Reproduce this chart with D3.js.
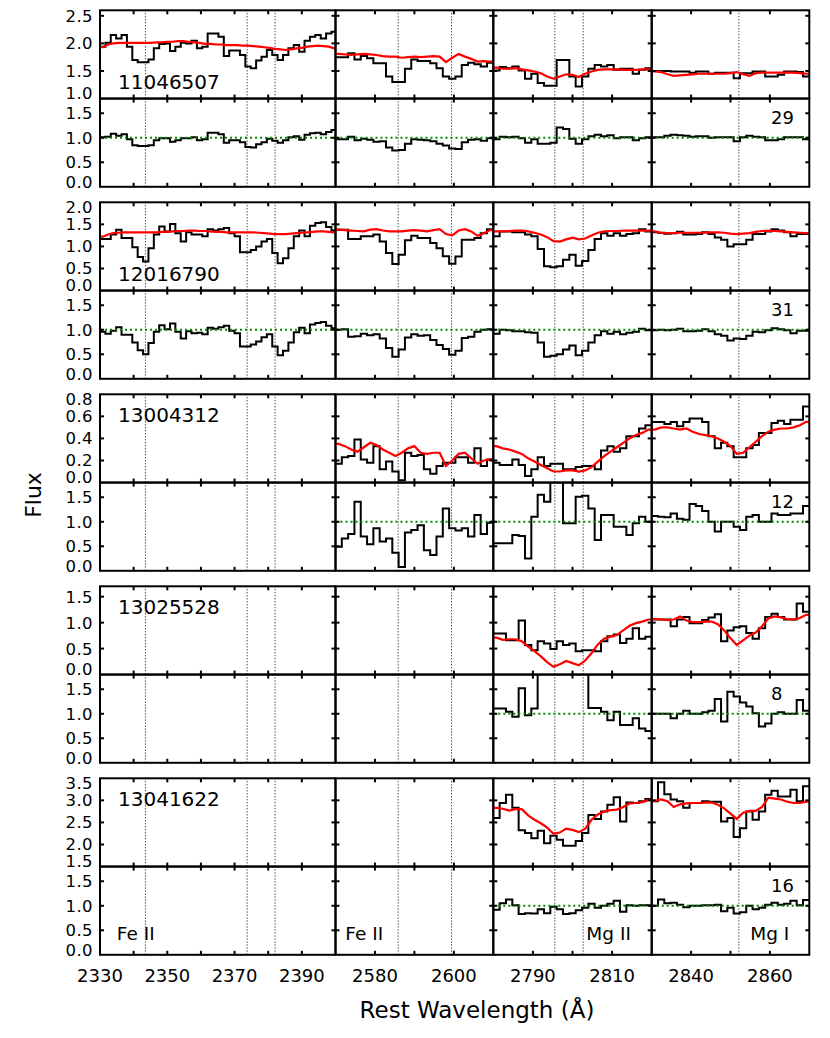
<!DOCTYPE html>
<html><head><meta charset="utf-8">
<script src="https://cdn.jsdelivr.net/npm/d3@7"></script>
<style>
body{margin:0;background:#fff}
svg{display:block}
text{font-family:"DejaVu Sans",sans-serif;fill:#000}
</style>
</head><body>
<svg id="chart" width="830" height="1038"></svg>
<script>
// ---------------- DATA ----------------
const galaxyIds = ["11046507","12016790","13004312","13025528","13041622"];
const snrLabels = ["29","31","12","8","16"];
const colRanges = [[2330,2400],[2570,2610],[2780,2820],[2830,2870]];
const binWidth = 1.6; // Angstrom per spectral bin (bins start at the left of each window)
const lineWaves = [[2343.50,2373.74,2382.04],[2585.88,2599.40],[2795.53,2802.70],[2852.13]];
const ionLabels = ["Fe II","Fe II","Mg II","Mg I"];
const ionLabelWaves = [2335,2572.5,2803.5,2855];
const xTickLabels = [[2330,2350,2370,2390],[2580,2600],[2790,2810],[2840,2860]];
const fluxDomains = [[1.0,2.6],[0,2.0],[0,0.8],[0,1.7],[1.5,3.5]];
const fluxTicks = [[1.0,1.5,2.0,2.5],[0,0.5,1.0,1.5,2.0],[0,0.2,0.4,0.6,0.8],[0,0.5,1.0,1.5],[1.5,2.0,2.5,3.0,3.5]];
const normDomain = [0,1.8];
const normTicks = [0,0.5,1.0,1.5];

// galaxy 1
const g1c1Flux=[1.94,2.01,2.15,2.09,2.15,1.94,1.70,1.66,1.66,1.71,1.91,1.99,2.00,1.86,1.94,2.01,2.00,2.05,1.91,1.94,2.18,2.18,2.12,1.77,1.87,1.87,1.79,1.58,1.55,1.69,1.76,1.88,1.79,1.70,1.79,1.91,1.97,1.85,2.05,2.12,2.15,2.09,2.18,2.21];
const g1c1Model=[1.93,1.98,2.00,2.01,2.01,2.01,2.01,2.01,2.01,2.01,2.02,2.02,2.03,2.03,2.04,2.04,2.03,2.02,2.01,1.99,1.99,1.98,1.98,1.97,1.97,1.97,1.96,1.96,1.95,1.94,1.93,1.92,1.90,1.89,1.88,1.89,1.91,1.92,1.94,1.95,1.96,1.95,1.94,1.91];
const g1c1Norm=[1.01,1.02,1.08,1.04,1.07,0.97,0.85,0.83,0.83,0.85,0.95,0.99,0.99,0.92,0.95,0.99,0.99,1.01,0.95,0.97,1.10,1.10,1.07,0.90,0.95,0.95,0.91,0.81,0.80,0.87,0.91,0.98,0.94,0.90,0.95,1.01,1.03,0.96,1.06,1.09,1.10,1.07,1.12,1.16];
const g1c2Flux=[1.75,1.75,1.82,1.71,1.77,1.73,1.64,1.64,1.40,1.30,1.30,1.54,1.71,1.68,1.68,1.64,1.55,1.40,1.36,1.40,1.61,1.65,1.62,1.58,1.65];
const g1c2Model=[1.81,1.80,1.79,1.80,1.81,1.80,1.79,1.77,1.76,1.76,1.74,1.75,1.76,1.75,1.76,1.77,1.76,1.66,1.74,1.81,1.76,1.72,1.67,1.68,1.67];
const g1c2Norm=[0.97,0.97,1.02,0.95,0.98,0.96,0.92,0.93,0.80,0.74,0.75,0.88,0.97,0.96,0.95,0.93,0.88,0.84,0.78,0.77,0.91,0.96,0.97,0.94,0.99];
const g1c3Flux=[1.51,1.57,1.55,1.58,1.51,1.36,1.45,1.28,1.23,1.23,1.70,1.70,1.40,1.22,1.40,1.54,1.61,1.58,1.61,1.52,1.54,1.54,1.45,1.52,1.55];
const g1c3Model=[1.56,1.54,1.54,1.55,1.53,1.51,1.49,1.46,1.40,1.36,1.40,1.44,1.43,1.39,1.45,1.49,1.52,1.53,1.53,1.53,1.52,1.52,1.52,1.53,1.53];
const g1c3Norm=[0.97,1.02,1.01,1.02,0.99,0.90,0.97,0.88,0.88,0.90,1.21,1.18,0.98,0.88,0.97,1.03,1.06,1.03,1.05,0.99,1.01,1.01,0.95,0.99,1.01];
const g1c4Flux=[1.50,1.50,1.50,1.49,1.49,1.49,1.47,1.49,1.49,1.45,1.47,1.47,1.47,1.37,1.46,1.46,1.49,1.49,1.40,1.40,1.43,1.49,1.49,1.48,1.40];
const g1c4Model=[1.49,1.48,1.44,1.41,1.42,1.43,1.44,1.45,1.45,1.45,1.45,1.45,1.46,1.48,1.44,1.41,1.46,1.47,1.47,1.47,1.47,1.47,1.47,1.46,1.45];
const g1c4Norm=[1.01,1.01,1.04,1.06,1.05,1.04,1.02,1.03,1.03,1.00,1.01,1.01,1.01,0.93,1.01,1.04,1.02,1.01,0.95,0.95,0.97,1.01,1.01,1.01,0.97];
// galaxy 2
const g2c1Flux=[1.17,1.17,1.27,1.38,1.19,1.19,0.98,0.76,0.66,0.96,1.27,1.45,1.34,1.51,1.30,1.11,1.32,1.27,1.27,1.23,1.39,1.36,1.39,1.42,1.30,1.23,0.87,0.87,0.92,1.00,1.11,1.17,0.85,0.62,0.73,0.96,1.23,1.36,1.23,1.47,1.53,1.55,1.44,1.36];
const g2c1Model=[1.22,1.27,1.30,1.31,1.32,1.32,1.32,1.32,1.32,1.32,1.32,1.33,1.33,1.34,1.35,1.35,1.36,1.36,1.35,1.35,1.34,1.33,1.33,1.32,1.32,1.32,1.32,1.32,1.32,1.31,1.30,1.29,1.28,1.28,1.28,1.29,1.30,1.31,1.32,1.33,1.34,1.34,1.33,1.32];
const g2c1Norm=[0.96,0.92,0.98,1.05,0.90,0.90,0.74,0.58,0.50,0.73,0.96,1.09,1.01,1.13,0.96,0.82,0.97,0.93,0.94,0.91,1.04,1.02,1.05,1.08,0.98,0.93,0.66,0.66,0.70,0.76,0.85,0.91,0.66,0.48,0.57,0.74,0.95,1.04,0.93,1.11,1.14,1.16,1.08,1.03];
const g2c2Flux=[1.38,1.38,1.17,1.17,1.23,1.23,1.27,1.11,0.85,0.60,0.81,1.14,1.24,1.19,1.19,1.08,0.96,0.78,0.61,0.77,1.15,1.15,1.19,1.30,1.39];
const g2c2Model=[1.38,1.37,1.36,1.35,1.34,1.38,1.39,1.36,1.34,1.34,1.34,1.36,1.37,1.36,1.34,1.37,1.39,1.28,1.25,1.36,1.39,1.34,1.24,1.30,1.37];
const g2c2Norm=[1.00,1.01,0.86,0.87,0.92,0.89,0.91,0.82,0.63,0.45,0.60,0.84,0.91,0.88,0.89,0.79,0.69,0.61,0.49,0.57,0.83,0.86,0.96,1.00,1.01];
const g2c3Flux=[1.23,1.34,1.34,1.32,1.32,1.27,1.23,0.94,0.55,0.53,0.55,0.70,0.81,0.56,0.67,0.92,1.17,1.30,1.24,1.30,1.24,1.28,1.30,1.39,1.34];
const g2c3Model=[1.34,1.34,1.35,1.36,1.36,1.34,1.31,1.27,1.21,1.12,1.11,1.16,1.20,1.16,1.18,1.25,1.31,1.34,1.35,1.35,1.36,1.36,1.36,1.36,1.36];
const g2c3Norm=[0.92,1.00,0.99,0.97,0.97,0.95,0.94,0.74,0.45,0.47,0.50,0.60,0.68,0.48,0.57,0.74,0.89,0.97,0.92,0.96,0.91,0.94,0.96,1.02,0.99];
const g2c4Flux=[1.32,1.31,1.29,1.30,1.33,1.27,1.27,1.28,1.32,1.28,1.20,1.15,1.00,1.05,1.05,1.15,1.28,1.28,1.34,1.39,1.36,1.32,1.23,1.28,1.28];
const g2c4Model=[1.34,1.31,1.30,1.30,1.31,1.31,1.31,1.31,1.31,1.32,1.32,1.31,1.29,1.28,1.29,1.30,1.33,1.35,1.36,1.35,1.34,1.33,1.32,1.31,1.30];
const g2c4Norm=[0.99,1.00,0.99,1.00,1.02,0.97,0.97,0.98,1.01,0.97,0.91,0.88,0.78,0.82,0.81,0.88,0.96,0.95,0.99,1.03,1.01,0.99,0.93,0.98,0.98];
// galaxy 3
const g3c2Flux=[0.17,0.23,0.24,0.39,0.21,0.18,0.33,0.12,0.19,0.10,0.02,0.27,0.24,0.25,0.12,0.08,0.15,0.18,0.18,0.23,0.23,0.18,0.31,0.15,0.21];
const g3c2Model=[0.35,0.33,0.30,0.28,0.32,0.36,0.34,0.30,0.27,0.24,0.27,0.31,0.33,0.27,0.26,0.27,0.27,0.15,0.20,0.26,0.27,0.22,0.17,0.20,0.21];
const g3c2Norm=[0.49,0.66,0.75,1.41,0.70,0.54,0.87,0.60,0.66,0.37,0.08,0.78,0.83,0.93,0.42,0.32,0.70,1.27,0.87,0.82,0.87,0.70,1.14,0.75,0.98];
const g3c3Flux=[0.18,0.16,0.16,0.21,0.16,0.06,0.12,0.23,0.15,0.17,0.17,0.12,0.12,0.14,0.15,0.15,0.12,0.29,0.33,0.28,0.31,0.42,0.42,0.49,0.52];
const g3c3Model=[0.33,0.31,0.30,0.28,0.26,0.22,0.19,0.16,0.13,0.10,0.10,0.11,0.11,0.10,0.11,0.14,0.19,0.24,0.28,0.32,0.36,0.40,0.43,0.45,0.48];
const g3c3Norm=[0.56,0.56,0.56,0.73,0.71,0.25,1.10,1.55,1.41,1.95,1.95,0.97,0.97,1.51,1.53,1.27,0.63,1.14,1.14,0.90,0.90,0.73,0.97,1.10,1.00];
const g3c4Flux=[0.55,0.55,0.53,0.55,0.51,0.55,0.58,0.58,0.55,0.42,0.31,0.36,0.33,0.23,0.23,0.31,0.34,0.45,0.45,0.54,0.56,0.53,0.57,0.57,0.69];
const g3c4Model=[0.48,0.50,0.50,0.49,0.48,0.49,0.46,0.44,0.43,0.42,0.40,0.37,0.33,0.26,0.27,0.32,0.37,0.42,0.46,0.48,0.49,0.49,0.50,0.52,0.55];
const g3c4Norm=[1.12,1.10,1.09,1.17,1.06,1.04,1.36,1.32,1.22,1.00,0.80,1.00,1.00,0.90,0.83,1.10,1.14,1.00,1.00,1.17,1.14,1.14,1.17,1.17,1.32];
// galaxy 4
const g4c3Flux=[0.79,0.79,0.66,0.66,1.04,0.57,0.47,0.64,0.60,0.49,0.64,0.57,0.60,0.45,0.47,0.47,0.45,0.64,0.74,0.77,0.61,0.69,0.89,0.69,0.73];
const g4c3Model=[0.71,0.67,0.68,0.68,0.64,0.54,0.45,0.35,0.24,0.15,0.20,0.26,0.22,0.18,0.27,0.41,0.58,0.69,0.73,0.76,0.85,0.94,0.99,1.02,1.06];
const g4c3Norm=[1.11,1.11,1.04,0.94,1.52,0.97,1.11,2.20,2.60,3.00,3.50,2.40,2.30,2.40,2.60,1.12,1.12,1.04,0.87,1.04,0.77,0.77,0.91,0.70,0.65];
const g4c4Flux=[1.06,1.06,1.06,0.93,1.06,1.11,0.99,0.99,1.05,1.10,1.16,0.64,0.85,0.91,0.93,0.80,0.69,0.89,1.11,1.17,1.11,1.06,1.06,1.37,1.21];
const g4c4Model=[1.07,1.06,1.05,1.06,1.12,1.04,1.01,1.01,1.02,1.02,0.97,0.85,0.70,0.57,0.66,0.75,0.81,0.93,1.08,1.12,1.10,1.07,1.06,1.09,1.15];
const g4c4Norm=[1.00,1.00,1.00,0.91,1.00,1.06,1.00,1.00,1.03,1.06,1.30,0.84,1.45,1.35,1.23,1.15,1.01,0.74,0.80,1.00,1.03,1.00,1.00,1.28,1.06];
// galaxy 5
const g5c3Flux=[2.60,2.94,3.13,2.83,2.32,2.26,2.14,2.31,2.03,2.20,2.11,1.97,1.97,2.08,2.26,2.67,2.58,2.75,2.90,3.07,2.52,2.95,2.94,2.98,3.03];
const g5c3Model=[2.83,2.81,2.77,2.80,2.80,2.66,2.56,2.48,2.38,2.24,2.27,2.36,2.33,2.28,2.36,2.56,2.68,2.75,2.78,2.79,2.85,2.93,2.94,2.96,3.01];
const g5c3Norm=[0.92,1.05,1.13,1.01,0.83,0.85,0.84,0.93,0.85,0.98,0.93,0.83,0.85,0.91,0.96,1.04,0.96,1.00,1.04,1.10,0.88,1.01,1.00,1.01,1.01];
const g5c4Flux=[2.98,3.41,3.14,3.02,2.98,2.83,2.94,2.94,2.98,2.97,2.97,2.52,2.60,2.17,2.37,2.75,2.56,2.75,3.13,3.22,3.09,3.09,3.24,2.98,3.32];
const g5c4Model=[2.99,3.02,2.98,2.85,2.91,2.93,2.94,2.94,2.95,2.95,2.90,2.82,2.70,2.58,2.72,2.76,2.76,2.85,3.06,3.04,3.02,2.97,2.94,2.94,2.97];
const g5c4Norm=[1.00,1.13,1.05,1.06,1.02,0.97,1.00,1.00,1.01,1.01,1.02,0.89,0.96,0.84,0.87,1.00,0.93,0.96,1.02,1.06,1.02,1.04,1.10,1.01,1.12];

// table built from the arrays above (null = no coverage)
const S=(f,m,n)=>({flux:f,model:m,norm:n});
const spectra=[
  [S(g1c1Flux,g1c1Model,g1c1Norm),S(g1c2Flux,g1c2Model,g1c2Norm),S(g1c3Flux,g1c3Model,g1c3Norm),S(g1c4Flux,g1c4Model,g1c4Norm)],
  [S(g2c1Flux,g2c1Model,g2c1Norm),S(g2c2Flux,g2c2Model,g2c2Norm),S(g2c3Flux,g2c3Model,g2c3Norm),S(g2c4Flux,g2c4Model,g2c4Norm)],
  [null,S(g3c2Flux,g3c2Model,g3c2Norm),S(g3c3Flux,g3c3Model,g3c3Norm),S(g3c4Flux,g3c4Model,g3c4Norm)],
  [null,null,S(g4c3Flux,g4c3Model,g4c3Norm),S(g4c4Flux,g4c4Model,g4c4Norm)],
  [null,null,S(g5c3Flux,g5c3Model,g5c3Norm),S(g5c4Flux,g5c4Model,g5c4Norm)]
];

// ---------------- LAYOUT ----------------
const svg=d3.select("#chart");
const colEdges=[100,335.5,493.3,651.7,809.3];
const blockTop0=10.3, blockStep=192, panelH=88.25, tickLen=4;
const xs=colRanges.map((r,c)=>d3.scaleLinear().domain(r).range([colEdges[c],colEdges[c+1]]));
const defs=svg.append("defs");
let clipN=0;

function drawPanel(x,y,yTickVals,c,series,isFlux){
  const [x0,x1]=x.range(); const [yb,yt]=y.range();
  const id="clip"+(clipN++);
  defs.append("clipPath").attr("id",id).append("rect")
    .attr("x",x0).attr("y",yt).attr("width",x1-x0).attr("height",yb-yt);
  const g=svg.append("g");
  const inner=g.append("g").attr("clip-path",`url(#${id})`);
  lineWaves[c].forEach(w=>{
    inner.append("line").attr("x1",x(w)).attr("x2",x(w)).attr("y1",yt).attr("y2",yb)
      .attr("stroke","#000").attr("stroke-width",1).attr("stroke-dasharray","1,2");
  });
  if(series){
    const start=colRanges[c][0];
    const vals=isFlux?series.flux:series.norm;
    const n=vals.length;
    const pts=vals.map((v,i)=>[start+binWidth*i,v]);
    pts.push([start+binWidth*n,vals[n-1]]);
    const step=d3.line().x(d=>x(d[0])).y(d=>y(d[1])).curve(d3.curveStepAfter);
    inner.append("path").attr("d",step(pts)).attr("fill","none")
      .attr("stroke","#000").attr("stroke-width",2);
    if(isFlux){
      const mp=series.model.map((v,i)=>[start+binWidth*(i+0.5),v]);
      mp.unshift([start,series.model[0]]);
      mp.push([start+binWidth*n,series.model[n-1]]);
      const lin=d3.line().x(d=>x(d[0])).y(d=>y(d[1]));
      inner.append("path").attr("d",lin(mp)).attr("fill","none")
        .attr("stroke","#ff0000").attr("stroke-width",2.2);
    } else {
      inner.append("line").attr("x1",x(start)).attr("x2",x(start+binWidth*n))
        .attr("y1",y(1)).attr("y2",y(1))
        .attr("stroke","#008a00").attr("stroke-width",2).attr("stroke-dasharray","2,3");
    }
  }
  // ticks
  const xt=d3.range(colRanges[c][0],colRanges[c][1]+0.001,10).filter(v=>v>colRanges[c][0]&&v<colRanges[c][1]);
  xt.forEach(v=>{
    g.append("line").attr("x1",x(v)).attr("x2",x(v)).attr("y1",yb).attr("y2",yb-tickLen).attr("stroke","#000").attr("stroke-width",2);
    g.append("line").attr("x1",x(v)).attr("x2",x(v)).attr("y1",yt).attr("y2",yt+tickLen).attr("stroke","#000").attr("stroke-width",2);
  });
  const dom=y.domain();
  yTickVals.filter(v=>v>dom[0]+1e-9&&v<dom[1]-1e-9).forEach(v=>{
    g.append("line").attr("x1",x0).attr("x2",x0+tickLen).attr("y1",y(v)).attr("y2",y(v)).attr("stroke","#000").attr("stroke-width",2);
    g.append("line").attr("x1",x1).attr("x2",x1-tickLen).attr("y1",y(v)).attr("y2",y(v)).attr("stroke","#000").attr("stroke-width",2);
  });
  g.append("rect").attr("x",x0).attr("y",yt).attr("width",x1-x0).attr("height",yb-yt)
    .attr("fill","none").attr("stroke","#000").attr("stroke-width",2);
}

function yLabels(y,vals){
  const dom=y.domain();
  vals.forEach(v=>{
    let py=y(v);
    if(Math.abs(v-dom[1])<1e-9) py+=5;
    if(Math.abs(v-dom[0])<1e-9) py-=5;
    svg.append("text").attr("x",93).attr("y",py).attr("dy","0.36em")
      .attr("text-anchor","end").attr("font-size",16.5).attr("letter-spacing",0.4)
      .text(d3.format(".1f")(v));
  });
}

galaxyIds.forEach((gid,gi)=>{
  const top=blockTop0+gi*blockStep;
  const yF=d3.scaleLinear().domain(fluxDomains[gi]).range([top+panelH,top]);
  const yN=d3.scaleLinear().domain(normDomain).range([top+2*panelH,top+panelH]);
  for(let c=0;c<4;c++){
    drawPanel(xs[c],yF,fluxTicks[gi],c,spectra[gi][c],true);
    drawPanel(xs[c],yN,normTicks,c,spectra[gi][c],false);
  }
  yLabels(yF,fluxTicks[gi]);
  yLabels(yN,normTicks);
  const idBottom=spectra[gi][0]!==null;
  svg.append("text").attr("x",colEdges[0]+18).attr("y",idBottom?top+78.5:top+27.7)
    .attr("font-size",20).text(gid);
  svg.append("text").attr("x",xs[3](2860.3)).attr("y",top+panelH+25.5)
    .attr("font-size",18).text(snrLabels[gi]);
  if(gi===galaxyIds.length-1){
    const bottom=top+2*panelH;
    ionLabels.forEach((t,c)=>{
      svg.append("text").attr("x",xs[c](ionLabelWaves[c])).attr("y",bottom-14.5)
        .attr("font-size",18.5).text(t);
    });
    xTickLabels.forEach((arr,c)=>arr.forEach(v=>{
      svg.append("text").attr("x",xs[c](v)).attr("y",bottom+27).attr("text-anchor","middle")
        .attr("font-size",18).text(v);
    }));
  }
});

svg.append("text").attr("x",477).attr("y",1018).attr("text-anchor","middle")
  .attr("font-size",23).text("Rest Wavelength (Å)");
svg.append("text").attr("transform","translate(41,495) rotate(-90)").attr("text-anchor","middle")
  .attr("font-size",22).text("Flux");
</script>
</body></html>
